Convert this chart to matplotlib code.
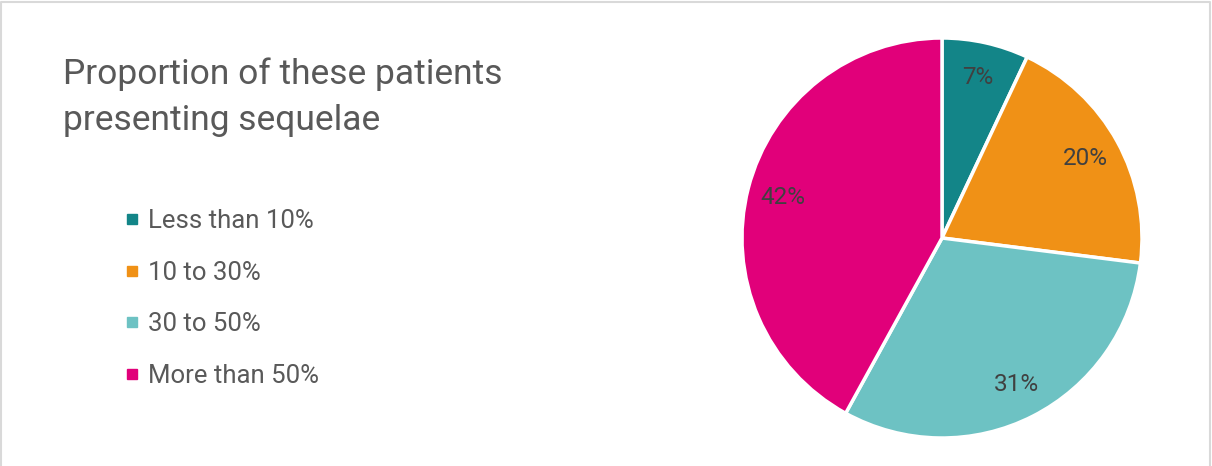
import numpy as np
import matplotlib
matplotlib.use('Agg')
import matplotlib.pyplot as plt
from matplotlib.lines import Line2D

categories = ['Less than 10%', '10 to 30%', '30 to 50%', 'More than 50%']
shares = [7, 20, 31, 42]
colors = ['#138588', '#F09116', '#6DC2C3', '#E1007A']
title = 'Proportion of these patients\npresenting sequelae'

plt.rcParams['font.family'] = ['Roboto', 'DejaVu Sans']

W, H = 1212, 466
fig = plt.figure(figsize=(W / 100, H / 100), dpi=100)

# thin grey frame on the top, left and right edges of the chart area
frame_x = [1 / W, 1 / W, (W - 2.5) / W, (W - 2.5) / W]
frame_y = [0, 1 - 2 / H, 1 - 2 / H, 0]
fig.add_artist(Line2D(frame_x, frame_y, transform=fig.transFigure,
                      color='#D9D9D9', linewidth=1.5))

# pie: centre (942, 238) px, radius 200 px
cx, cy, r = 942, 238, 200
ax = fig.add_axes([(cx - r) / W, (H - cy - r) / H, 2 * r / W, 2 * r / H])
wedges, _ = ax.pie(shares, colors=colors, startangle=90, counterclock=False,
                   radius=1.0, wedgeprops=dict(edgecolor='white', linewidth=2.5))
ax.set_xlim(-1, 1)
ax.set_ylim(-1, 1)
ax.set_aspect('equal')
ax.axis('off')

# percentage labels inside each slice
cum = np.cumsum([0] + shares[:-1])
for start, v in zip(cum, shares):
    ang = np.deg2rad(90 - (start + v / 2) * 3.6)
    ax.text(0.82 * np.cos(ang), 0.82 * np.sin(ang), f'{v}%', ha='center', va='center',
            fontsize=17.5, color='#404040')

fig.text(63 / W, 1 - 57 / H, title, ha='left', va='top', fontsize=25.5,
         color='#595959', linespacing=1.5)

handles = [Line2D([], [], linestyle='none', marker='s', markersize=6.5,
                  markerfacecolor=c, markeredgecolor=c) for c in colors]
fig.legend(handles, categories, loc='upper left', bbox_to_anchor=(113 / W, 1 - 196 / H),
           frameon=False, fontsize=18.5, labelcolor='#595959', handlelength=0.5,
           handletextpad=0.35, labelspacing=1.08, borderpad=0)

fig.savefig('out.png', dpi=100)
